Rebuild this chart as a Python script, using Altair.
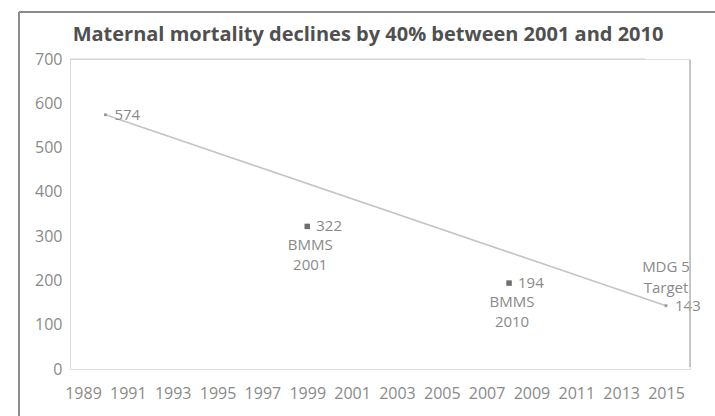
import altair as alt
import pandas as pd

# ---- data ----
years = [1990, 1999, 2008, 2015]
mmr = [574, 322, 194, 143]
kinds = ["estimate", "survey", "survey", "target"]
notes = ["", "BMMS\n2001", "BMMS\n2010", "MDG 5\nTarget"]
x_ticks = list(range(1989, 2016, 2))
y_ticks = list(range(0, 701, 100))
title_text = "Maternal mortality declines by 40% between 2001 and 2010"

df = pd.DataFrame({"year": years, "mmr": mmr, "kind": kinds, "note": notes})

W, H = 620, 310
FONT = "Open Sans"
GRAY = "#8a8a8a"

x_enc = alt.X("year:Q", scale=alt.Scale(domain=[1988.42, 2016.07], nice=False, zero=False),
              axis=alt.Axis(values=x_ticks, format="d", title=None, grid=False, ticks=False,
                            domain=False, labelFont=FONT, labelFontSize=16, labelColor=GRAY,
                            labelPadding=16, labelFlush=False, labelOverlap=False))
y_enc = alt.Y("mmr:Q", scale=alt.Scale(domain=[0, 700], nice=False),
              axis=alt.Axis(values=y_ticks, title=None, grid=False, ticks=False, domain=False,
                            labelFont=FONT, labelFontSize=16, labelColor=GRAY, labelPadding=8))

base = alt.Chart(df)

trend = base.transform_filter("datum.kind != 'survey'").mark_line(
    color="#c4c4c4", strokeWidth=1.6).encode(x=x_enc, y=y_enc)

pts = base.mark_point(filled=True, shape="square", opacity=1).encode(
    x="year:Q", y="mmr:Q",
    size=alt.condition("datum.kind == 'survey'", alt.value(30), alt.value(8)),
    color=alt.condition("datum.kind == 'survey'", alt.value("#6e6e6e"), alt.value("#9a9a9a")),
)

vals = base.mark_text(align="left", baseline="middle", dx=9, font=FONT, fontSize=15,
                      color=GRAY).encode(x="year:Q", y="mmr:Q", text="mmr:Q")

below = base.transform_filter("datum.kind == 'survey'").mark_text(
    align="center", baseline="top", dy=12, dx=3, lineBreak="\n", lineHeight=20,
    font=FONT, fontSize=15, color=GRAY).encode(x="year:Q", y="mmr:Q", text="note:N")

above = base.transform_filter("datum.kind == 'target'").mark_text(
    align="center", baseline="bottom", dy=-31, dx=0, lineBreak="\n", lineHeight=21,
    font=FONT, fontSize=15, color=GRAY).encode(x="year:Q", y="mmr:Q", text="note:N")

top_grid = alt.Chart(pd.DataFrame({"v": [700]})).mark_rule(color="#d0d0d0", strokeWidth=1).encode(
    y=alt.Y("v:Q", scale=alt.Scale(domain=[0, 700])), x=alt.value(0), x2=alt.value(575))

title = alt.Chart(pd.DataFrame({"t": [title_text]})).mark_text(
    align="center", baseline="middle", font=FONT, fontSize=20, fontWeight="bold",
    color="#505050").encode(x=alt.value(W / 2 - 12), y=alt.value(-24), text="t:N")

frame_left = alt.Chart(pd.DataFrame({"a": [0]})).mark_rule(color="#8c8c8c", strokeWidth=2).encode(
    x=alt.value(-51), y=alt.value(-47), y2=alt.value(H + 60))
frame_top = alt.Chart(pd.DataFrame({"a": [0]})).mark_rule(color="#8c8c8c", strokeWidth=2).encode(
    x=alt.value(-51), x2=alt.value(W + 25), y=alt.value(-47))
right_line = alt.Chart(pd.DataFrame({"a": [0]})).mark_rule(color="#b8b8b8", strokeWidth=1.5).encode(
    x=alt.value(W), y=alt.value(1), y2=alt.value(H - 2))

chart = alt.layer(top_grid, trend, pts, vals, below, above, title,
                  frame_left, frame_top, right_line).properties(
    width=W, height=H,
    autosize=alt.AutoSizeParams(type="none"),
    padding={"left": 70, "top": 59, "right": 25, "bottom": 47},
).configure_view(stroke=None).configure(background="white")

chart.save("out.html", embed_options={"renderer": "svg", "actions": False})
